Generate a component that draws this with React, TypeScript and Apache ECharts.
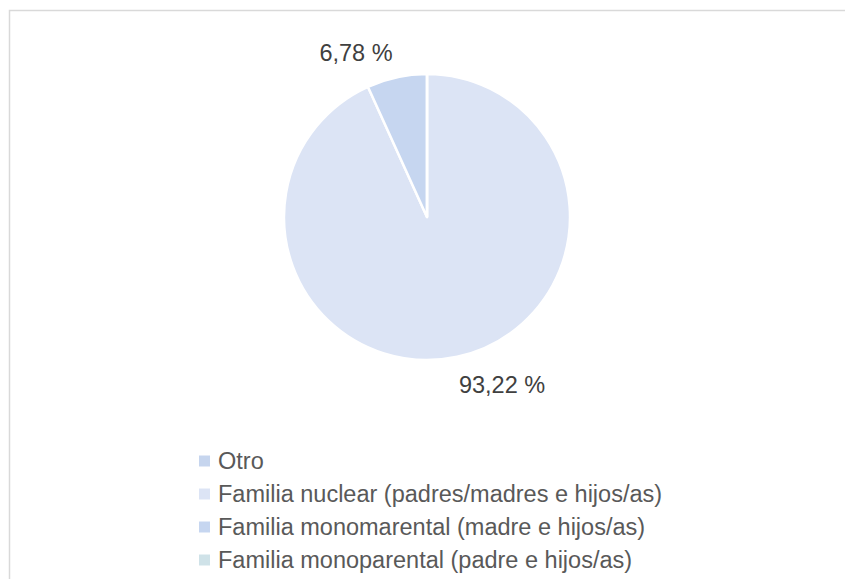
import React, { useEffect, useRef } from "react";
import * as echarts from "echarts";

const categories = [
  "Otro",
  "Familia nuclear (padres/madres e hijos/as)",
  "Familia monomarental (madre e hijos/as)",
  "Familia monoparental (padre e hijos/as)",
];
const values = [0, 93.22, 6.78, 0];
const colors = ["#c6d5ee", "#dce4f5", "#c6d6f0", "#cfe2e8"];

export default function App() {
  const ref = useRef<HTMLDivElement>(null);
  useEffect(() => {
    document.body.style.margin = "0";
    const chart = echarts.init(ref.current!, null, { renderer: "svg" });
    const labelPos: Record<number, [number, number]> = {
      1: [502, 385],
      2: [356, 53],
    };
    chart.setOption({
      animation: false,
      backgroundColor: "#ffffff",
      textStyle: { fontFamily: "Liberation Sans, Arial, sans-serif" },
      graphic: [
        {
          type: "rect",
          shape: { x: 9.5, y: 10.5, width: 900, height: 700 },
          style: { fill: "none", stroke: "#d9d9d9", lineWidth: 1.5 },
          silent: true,
        },
      ],
      legend: {
        orient: "vertical",
        left: 192,
        top: 444,
        icon: "rect",
        itemWidth: 13,
        itemHeight: 13,
        itemGap: 9,
        data: categories,
        textStyle: {
          fontSize: 23.5,
          lineHeight: 24,
          color: "#595959",
          fontFamily: "Liberation Sans, Arial, sans-serif",
          padding: [0, 0, 0, 2],
        },
      },
      series: [
        {
          type: "pie",
          center: [427, 217],
          radius: 143,
          startAngle: 90,
          clockwise: true,
          itemStyle: { borderColor: "#ffffff", borderWidth: 2.5 },
          emphasis: { disabled: true },
          label: {
            show: true,
            position: "outside",
            fontSize: 23.5,
            color: "#404040",
            fontFamily: "Liberation Sans, Arial, sans-serif",
            formatter: (p: any) => p.value.toFixed(2).replace(".", ",") + " %",
          },
          labelLine: { show: false },
          labelLayout: (p: any) => {
            const pos = labelPos[p.dataIndex];
            if (!pos) return {};
            return { x: pos[0], y: pos[1], align: "center", verticalAlign: "middle" };
          },
          data: categories.map((name, i) => ({
            name,
            value: values[i],
            itemStyle: { color: colors[i] },
            label: { show: values[i] > 0 },
          })),
        },
      ],
    });
    return () => chart.dispose();
  }, []);
  return <div ref={ref} style={{ width: 845, height: 579 }} />;
}
